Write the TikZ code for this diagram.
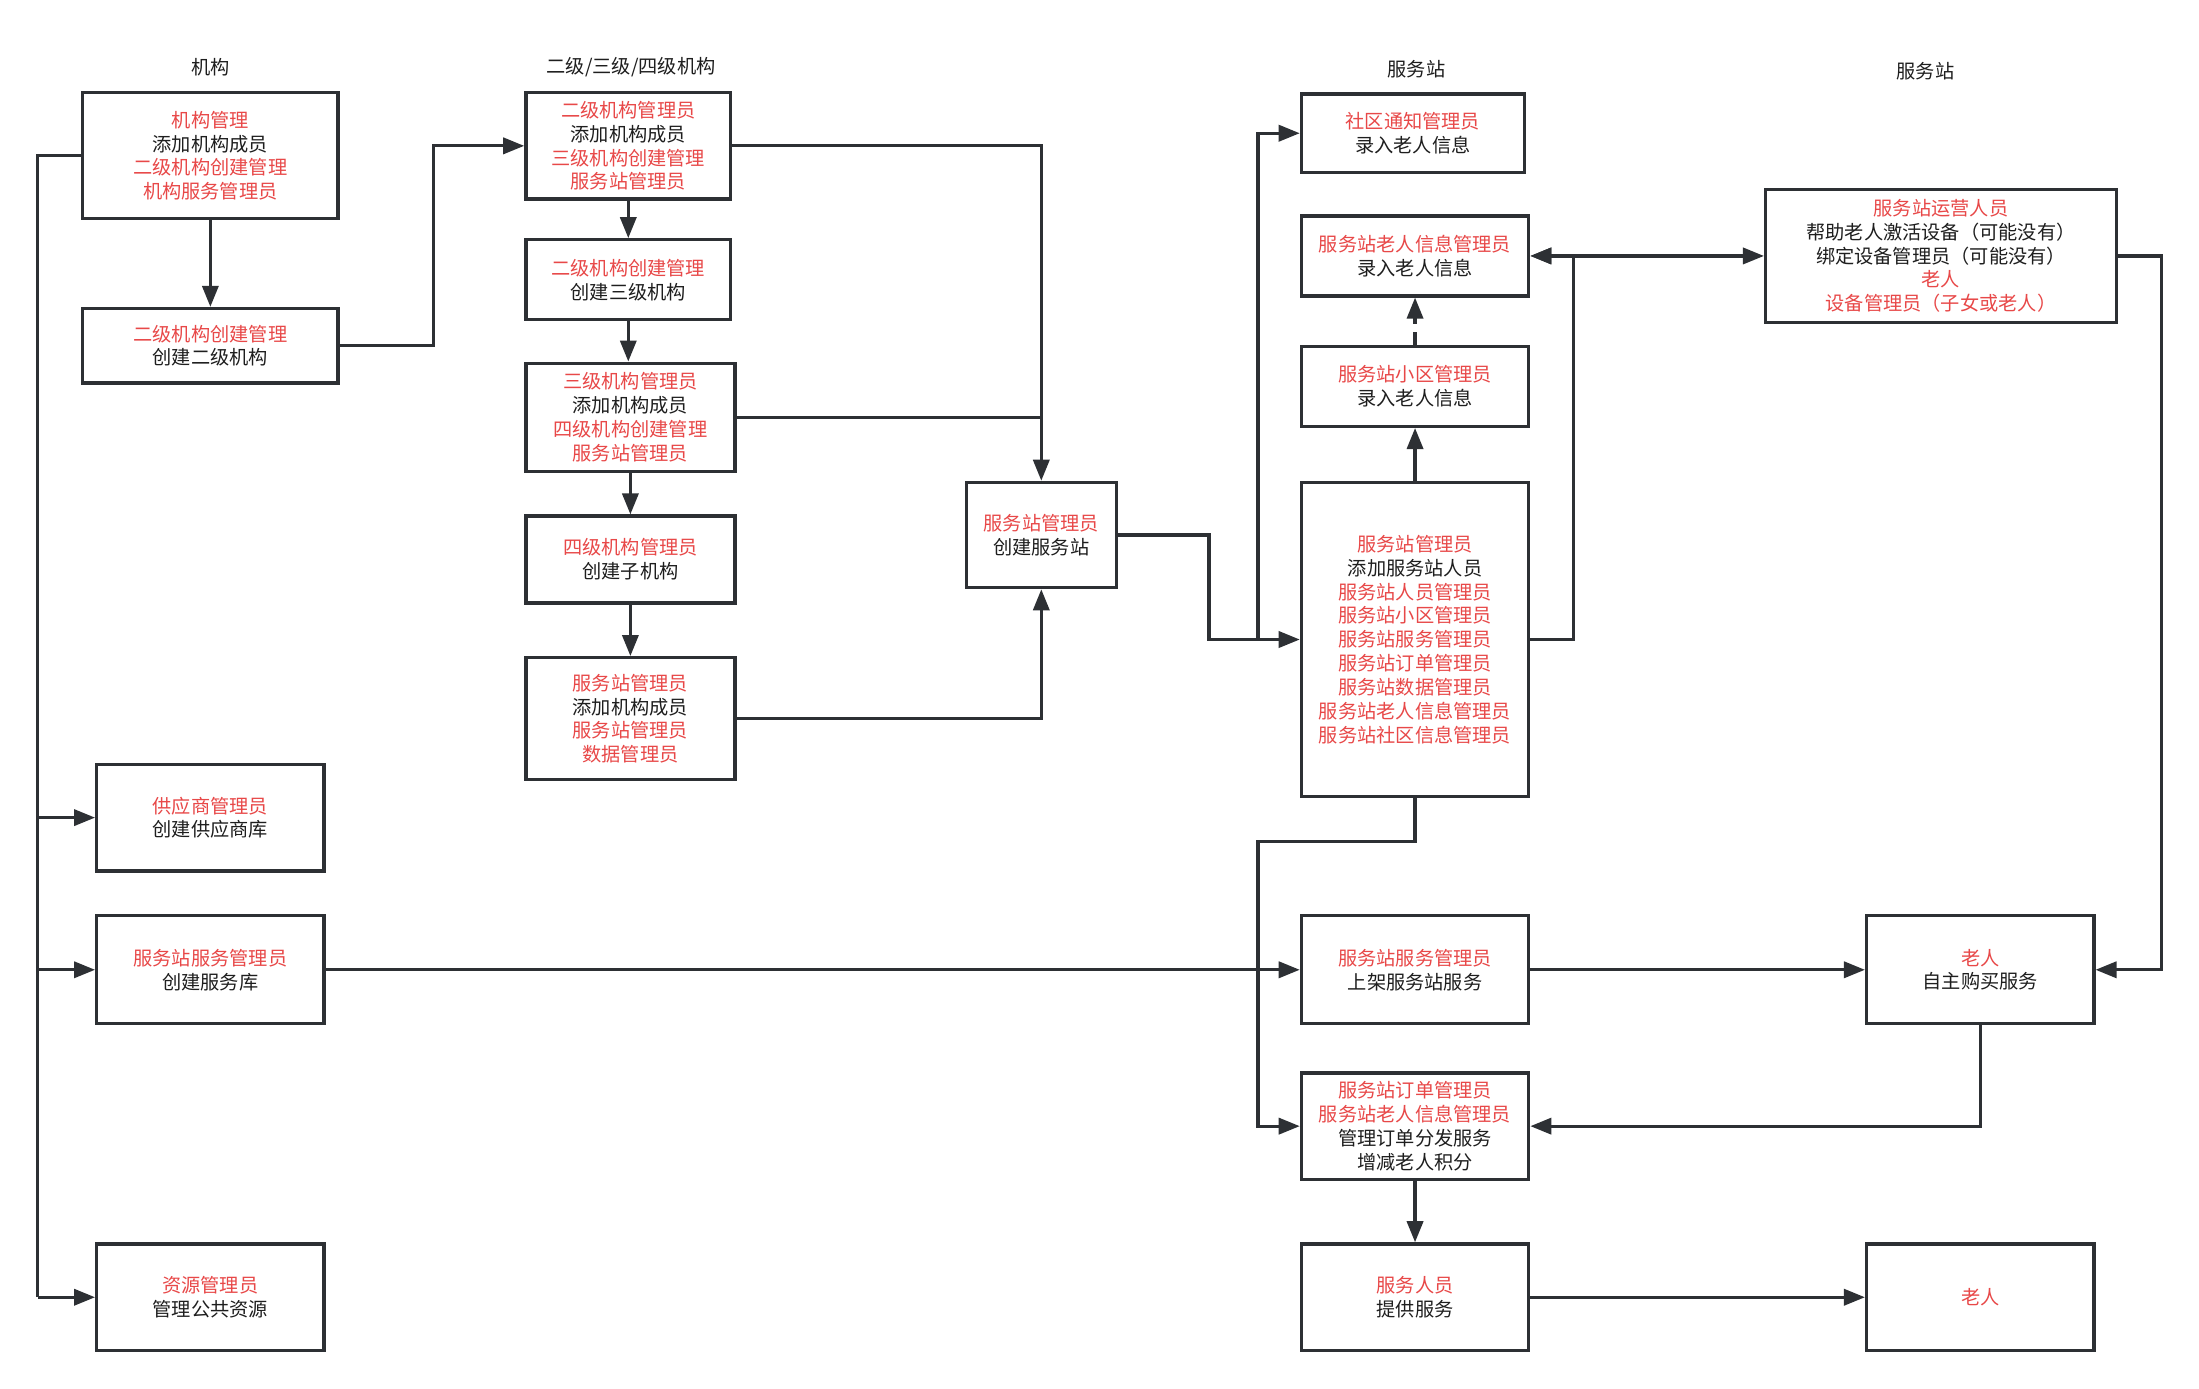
\documentclass[tikz,border=0pt]{standalone}
\usepackage{fontspec}
\setmainfont{Noto Sans CJK SC}
\usetikzlibrary{arrows.meta}
\definecolor{tred}{RGB}{232,72,72}
\definecolor{tblk}{RGB}{30,30,30}
\definecolor{lc}{RGB}{45,48,52}
\newcommand\rt[1]{\textcolor{tred}{#1}}
\begin{document}
\begin{tikzpicture}[x=1pt,y=-1pt,
  box/.style={draw=lc, line width=2.4pt, fill=white, inner sep=0pt, align=center,
    text=tblk, font=\fontsize{13.7pt}{17pt}\selectfont},
  head/.style={text=tblk, font=\fontsize{13.7pt}{17pt}\selectfont, inner sep=0pt},
  ln/.style={draw=lc, line width=2.3pt},
  arr/.style={ln, -{Triangle[length=15pt,width=11.5pt]}},
  darr/.style={ln, {Triangle[length=15pt,width=11.5pt]}-{Triangle[length=15pt,width=11.5pt]}}]
\useasboundingbox (0,0) rectangle (1568,990);
\fill[white] (0,0) rectangle (1568,990);
% headings
\node[head] (h1) at (150,48) {机构};
\node[head] (h2) at (450,48) {二级/三级/四级机构};
\node[head] (h3) at (1010,49) {服务站};
\node[head] (h4) at (1373,51) {服务站};
% left column
\node[box, minimum width=182pt, minimum height=90pt] (L1) at (150,111) {\rt{机构管理}\\添加机构成员\\\rt{二级机构创建管理}\\\rt{机构服务管理员}};
\node[box, minimum width=182pt, minimum height=53pt] (L2) at (150,246.5) {\rt{二级机构创建管理}\\创建二级机构};
\node[box, minimum width=162pt, minimum height=76pt] (L3) at (150,583) {\rt{供应商管理员}\\创建供应商库};
\node[box, minimum width=162pt, minimum height=77pt] (L4) at (150,691.5) {\rt{服务站服务管理员}\\创建服务库};
\node[box, minimum width=162pt, minimum height=76pt] (L5) at (150,925) {\rt{资源管理员}\\管理公共资源};
% middle column
\node[box, minimum width=146pt, minimum height=76pt] (M1) at (448,104) {\rt{二级机构管理员}\\添加机构成员\\\rt{三级机构创建管理}\\\rt{服务站管理员}};
\node[box, minimum width=146pt, minimum height=57pt] (M2) at (448,199.5) {\rt{二级机构创建管理}\\创建三级机构};
\node[box, minimum width=149pt, minimum height=77pt] (M3) at (449.5,297.5) {\rt{三级机构管理员}\\添加机构成员\\\rt{四级机构创建管理}\\\rt{服务站管理员}};
\node[box, minimum width=149pt, minimum height=62pt] (M4) at (449.5,399) {\rt{四级机构管理员}\\创建子机构};
\node[box, minimum width=149pt, minimum height=87pt] (M5) at (449.5,512.5) {\rt{服务站管理员}\\添加机构成员\\\rt{服务站管理员}\\\rt{数据管理员}};
\node[box, minimum width=107pt, minimum height=75pt] (S) at (742.5,381.5) {\rt{服务站管理员}\\创建服务站};
% service station column
\node[box, minimum width=159pt, minimum height=56pt] (R1) at (1007.5,95) {\rt{社区通知管理员}\\录入老人信息};
\node[box, minimum width=162pt, minimum height=57pt] (R2) at (1009,182.5) {\rt{服务站老人信息管理员}\\录入老人信息};
\node[box, minimum width=162pt, minimum height=57pt] (R3) at (1009,275.5) {\rt{服务站小区管理员}\\录入老人信息};
\node[box, minimum width=162pt, minimum height=224pt] (R5) at (1009,456) {\rt{服务站管理员}\\添加服务站人员\\\rt{服务站人员管理员}\\\rt{服务站小区管理员}\\\rt{服务站服务管理员}\\\rt{服务站订单管理员}\\\rt{服务站数据管理员}\\\rt{服务站老人信息管理员}\\\rt{服务站社区信息管理员}};
\node[box, minimum width=250pt, minimum height=95pt] (R4) at (1384,182.5) {\rt{服务站运营人员}\\帮助老人激活设备（可能没有）\\绑定设备管理员（可能没有）\\\rt{老人}\\\rt{设备管理员（子女或老人）}};
\node[box, minimum width=162pt, minimum height=77pt] (R6) at (1009,691.5) {\rt{服务站服务管理员}\\上架服务站服务};
\node[box, minimum width=162pt, minimum height=76pt] (R8) at (1009,803) {\rt{服务站订单管理员}\\\rt{服务站老人信息管理员}\\管理订单分发服务\\增减老人积分};
\node[box, minimum width=162pt, minimum height=76pt] (R9) at (1009,925) {\rt{服务人员}\\提供服务};
\node[box, minimum width=162pt, minimum height=77pt] (E1) at (1412,691.5) {\rt{老人}\\自主购买服务};
\node[box, minimum width=162pt, minimum height=76pt] (E2) at (1412,925) {\rt{老人}};
% junction coordinates
\coordinate (bus) at (27,111);
\coordinate (j1) at (309,0);
\coordinate (j2) at (862,0);
\coordinate (j3) at (897,0);
\coordinate (j4) at (897,600);
\coordinate (j5) at (1122,0);
\coordinate (j6) at (1541,0);
% left connectors
\draw[ln] (L1.west) -- (bus) -- (bus |- L5.west);
\draw[arr] (bus |- L3.west) -- (L3.west);
\draw[arr] (bus |- L4.west) -- (L4.west);
\draw[arr] (bus |- L5.west) -- (L5.west);
\draw[arr] (L1.south) -- (L2.north);
\draw[arr] (L2.east) -- (L2.east -| j1) |- (M1.west);
% middle
\draw[arr] (M1.south) -- (M2.north);
\draw[arr] (M2.south) -- (M2.south |- M3.north);
\draw[arr] (M3.south) -- (M4.north);
\draw[arr] (M4.south) -- (M5.north);
\draw[arr] (M1.east) -| (S.north);
\draw[ln] (M3.east) -- (M3.east -| S.north);
\draw[arr] (M5.east) -| (S.south);
% station
\draw[arr] (S.east) -| (j2 |- R5.west) -- (R5.west);
\draw[arr] (j3 |- R5.west) |- (R1.west);
\draw[arr] (R5.north) -- (R3.south);
\draw[arr, dash pattern=on 9pt off 6pt on 40pt] (R3.north) -- (R2.south);
\draw[arr] (R5.east) -| (j5 |- R2.east) -- (R2.east);
\draw[darr] (R2.east) -- (R4.west);
\draw[arr] (R4.east) -| (j6 |- E1.east) -- (E1.east);
\draw[arr] (R5.south) |- (j4) |- (R8.west);
\draw[arr] (L4.east) -- (R6.west);
\draw[arr] (R6.east) -- (E1.west);
\draw[arr] (E1.south) |- (R8.east);
\draw[arr] (R8.south) -- (R9.north);
\draw[arr] (R9.east) -- (E2.west);
\end{tikzpicture}
\end{document}
